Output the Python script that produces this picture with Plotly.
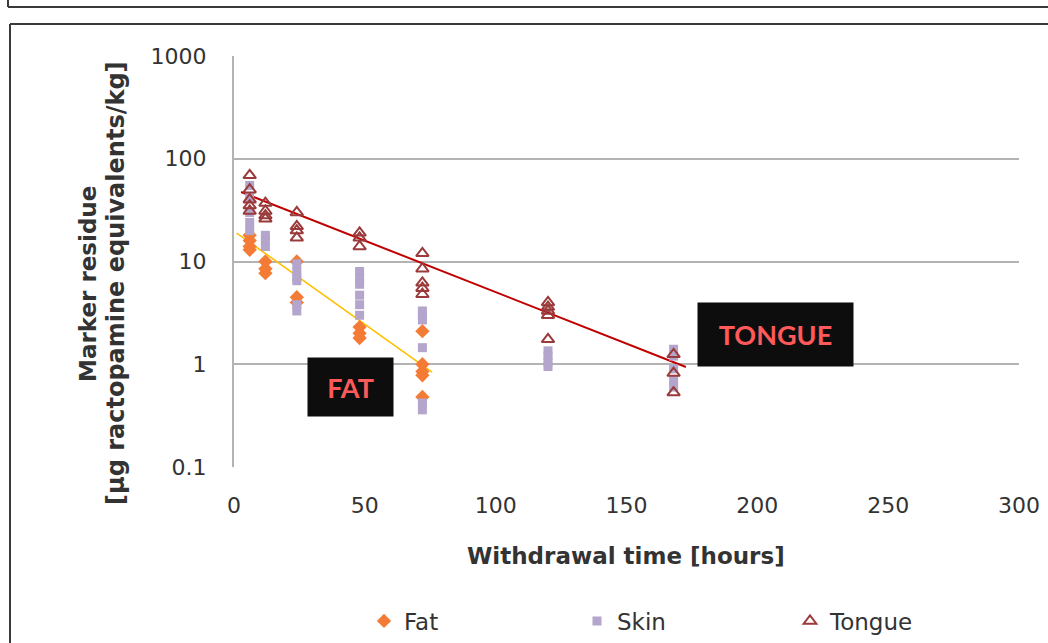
import plotly.graph_objects as go

# Withdrawal times (hours) and measured marker residue (ug ractopamine equivalents/kg)
fat_hours = [6, 6, 6, 6, 12, 12, 12, 24, 24, 24, 48, 48, 48, 72, 72, 72, 72, 72]
fat_values = [18, 16, 14, 13, 10, 8.5, 7.7, 10, 4.5, 4.0, 2.3, 2.0, 1.8, 2.1, 1.0, 0.85, 0.78, 0.48]

skin_hours = [6, 6, 6, 6, 6, 12, 12, 12, 24, 24, 24, 24, 24, 24,
              48, 48, 48, 48, 48, 48, 72, 72, 72, 72, 72, 72,
              120, 120, 120, 120, 168, 168, 168, 168, 168]
skin_values = [55, 42, 30, 24, 20, 18, 16, 14, 9.5, 8, 7, 6.5, 3.8, 3.3,
               8, 7, 6, 4.7, 3.8, 3.0, 3.3, 3.0, 2.7, 1.45, 0.42, 0.36,
               1.35, 1.2, 1.05, 0.95, 1.4, 1.2, 0.9, 0.7, 0.6]

tongue_hours = [6, 6, 6, 6, 6, 12, 12, 12, 12, 24, 24, 24, 24, 48, 48, 48,
                72, 72, 72, 72, 72, 120, 120, 120, 120, 120, 168, 168, 168]
tongue_values = [69, 50, 40, 35, 31, 37, 31, 28, 26, 30, 22, 20, 17, 19, 17, 14,
                 12, 8.5, 6.2, 5.5, 4.8, 4.0, 3.6, 3.3, 3.0, 1.75, 1.25, 0.82, 0.53]

# Exponential depletion fits (end points of the straight lines on the log axis)
fat_fit_hours = [1.0, 75.7]
fat_fit_values = [18.9, 0.84]
tongue_fit_hours = [2.7, 172.7]
tongue_fit_values = [47.5, 0.94]

x_ticks = [0, 50, 100, 150, 200, 250, 300]
y_ticks = [0.1, 1, 10, 100, 1000]
y_tick_labels = ["0.1", "1", "10", "100", "1000"]

FONT = "DejaVu Sans"
TEXT = "#333333"
GRID = "#B3B3B3"

fig = go.Figure()

# fit lines first so the markers sit on top
fig.add_trace(go.Scatter(
    x=fat_fit_hours, y=fat_fit_values, mode="lines",
    line=dict(color="#FFC000", width=1.6), showlegend=False, hoverinfo="skip"))
fig.add_trace(go.Scatter(
    x=tongue_fit_hours, y=tongue_fit_values, mode="lines",
    line=dict(color="#C00000", width=2), showlegend=False, hoverinfo="skip"))

fig.add_trace(go.Scatter(
    x=fat_hours, y=fat_values, mode="markers", name="Fat",
    marker=dict(symbol="diamond", size=11, color="#F47B36")))
fig.add_trace(go.Scatter(
    x=skin_hours, y=skin_values, mode="markers", name="Skin",
    marker=dict(symbol="square", size=9, color="#B3A5CC")))
fig.add_trace(go.Scatter(
    x=tongue_hours, y=tongue_values, mode="markers", name="Tongue",
    marker=dict(symbol="triangle-up-open", size=11, color="#9A3A3A",
                line=dict(width=2, color="#9A3A3A"))))

W, H = 1048, 643
L, R, T, B = 234, 29, 56, 176
pw, ph = W - L - R, H - T - B


def px_x(p):
    return (p - L) / pw


def px_y(p):
    return (H - B - p) / ph


shapes = [
    # frame of the panel above
    dict(type="line", xref="paper", yref="paper", x0=px_x(8), x1=px_x(1060),
         y0=px_y(7), y1=px_y(7), line=dict(color="#3A3A3A", width=2)),
    dict(type="line", xref="paper", yref="paper", x0=px_x(8), x1=px_x(8),
         y0=px_y(-10), y1=px_y(7), line=dict(color="#3A3A3A", width=2)),
    # frame of this panel
    dict(type="line", xref="paper", yref="paper", x0=px_x(10), x1=px_x(1060),
         y0=px_y(24), y1=px_y(24), line=dict(color="#3A3A3A", width=2)),
    dict(type="line", xref="paper", yref="paper", x0=px_x(10), x1=px_x(10),
         y0=px_y(24), y1=px_y(660), line=dict(color="#3A3A3A", width=2)),
]

title_font = dict(family=FONT, size=23, color=TEXT, weight="bold")

annotations = [
    dict(text="Withdrawal time [hours]", xref="paper", yref="paper",
         x=px_x(626), y=px_y(556), xanchor="center", yanchor="middle",
         showarrow=False, font=title_font),
    dict(text="Marker residue", xref="paper", yref="paper",
         x=px_x(88), y=px_y(284), xanchor="center", yanchor="middle",
         showarrow=False, textangle=-90, font=title_font),
    dict(text="[µg ractopamine equivalents/kg]", xref="paper", yref="paper",
         x=px_x(116), y=px_y(283), xanchor="center", yanchor="middle",
         showarrow=False, textangle=-90,
         font=dict(family=FONT, size=24, color=TEXT, weight="bold")),
    dict(text="FAT", x=44.5, y=-0.219, xref="x", yref="y", showarrow=False,
         xanchor="center", yanchor="middle",
         bgcolor="#0D0D0D", width=85, height=58, borderpad=0,
         font=dict(family="Lato", size=27, color="#FF5A5A", weight="bold")),
    dict(text="TONGUE", x=206.9, y=0.292, xref="x", yref="y", showarrow=False,
         xanchor="center", yanchor="middle",
         bgcolor="#0D0D0D", width=155, height=63, borderpad=0,
         font=dict(family="Lato", size=27, color="#FF5A5A", weight="bold")),
]

fig.update_layout(
    width=W, height=H,
    margin=dict(l=L, r=R, t=T, b=B, autoexpand=False),
    paper_bgcolor="white", plot_bgcolor="white",
    font=dict(family=FONT, color=TEXT),
    shapes=shapes, annotations=annotations,
    legend=dict(orientation="h", x=px_x(364), y=px_y(621), xanchor="left", yanchor="middle",
                font=dict(family=FONT, size=23, color=TEXT),
                entrywidth=168, entrywidthmode="pixels", itemwidth=30),
)

fig.update_xaxes(
    range=[0, 300], tickvals=x_ticks, showgrid=False, zeroline=False,
    showline=False, ticks="", ticklabelstandoff=23,
    tickfont=dict(family=FONT, size=22, color=TEXT))
fig.update_yaxes(
    type="log", range=[-1, 3], tickvals=y_ticks, ticktext=y_tick_labels,
    showgrid=True, gridcolor=GRID, gridwidth=2,
    showline=True, linecolor=GRID, linewidth=2, zeroline=False,
    ticks="", ticklabelstandoff=21,
    tickfont=dict(family=FONT, size=22, color=TEXT))

fig.write_html("out.html")
